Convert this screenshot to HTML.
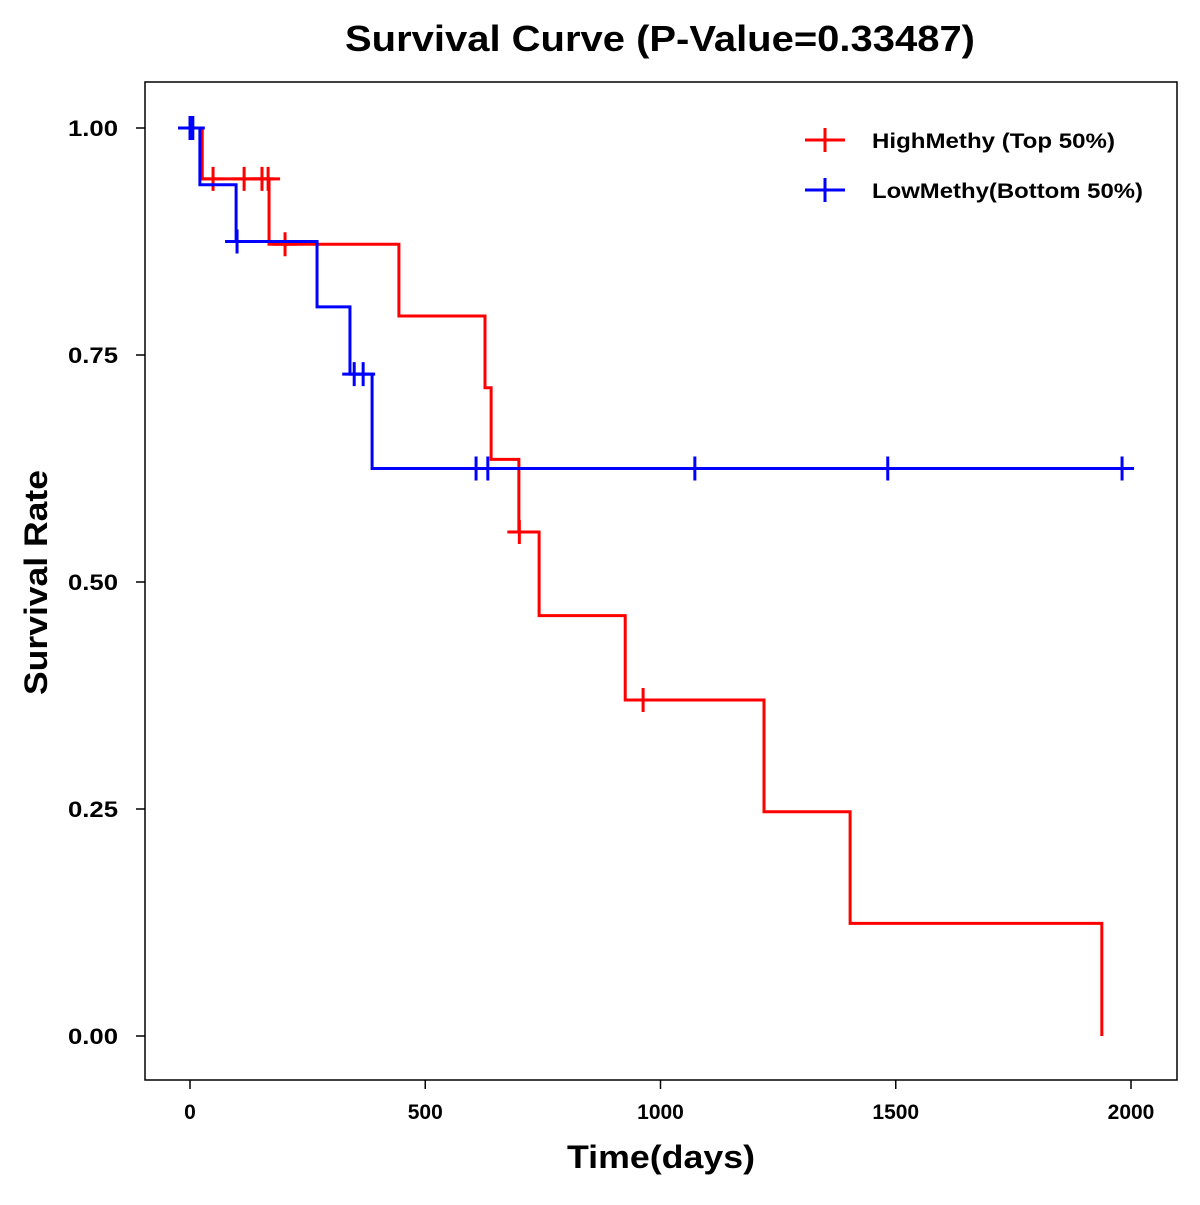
<!DOCTYPE html>
<html><head><meta charset="utf-8"><style>
body{margin:0;background:#fff}
svg text{font-family:"Liberation Sans",Arial,sans-serif;font-weight:bold}
</style></head><body>
<svg id="chart" width="1200" height="1200" xmlns="http://www.w3.org/2000/svg">
<rect width="1200" height="1200" fill="#fff"/>
<text x="345" y="51" font-size="36" textLength="630" lengthAdjust="spacingAndGlyphs">Survival Curve (P-Value=0.33487)</text>
<rect x="145" y="82" width="1032" height="998" fill="none" stroke="#000" stroke-width="1.5"/>
<g id="axes"></g>
<g id="series"></g>
<text x="567" y="1168" font-size="32" textLength="188" lengthAdjust="spacingAndGlyphs">Time(days)</text>
<text transform="translate(47,695) rotate(-90)" font-size="32" textLength="225" lengthAdjust="spacingAndGlyphs">Survival Rate</text>
<g>
<g>
<line x1="805" y1="140" x2="845" y2="140" stroke="#f00" stroke-width="3"/><line x1="825" y1="128" x2="825" y2="152" stroke="#f00" stroke-width="3"/>
<text x="872" y="148" font-size="21" textLength="243" lengthAdjust="spacingAndGlyphs">HighMethy (Top 50%)</text></g>
<g>
<line x1="805" y1="190" x2="845" y2="190" stroke="#00f" stroke-width="3"/><line x1="825" y1="178" x2="825" y2="202" stroke="#00f" stroke-width="3"/>
<text x="872" y="198" font-size="21" textLength="271" lengthAdjust="spacingAndGlyphs">LowMethy(Bottom 50%)</text></g>
</g>
</svg>
<script>
const xTicks=[0,500,1000,1500,2000];
const yTicks=[0,0.25,0.5,0.75,1.0];
const yTickLabels=["0.00","0.25","0.50","0.75","1.00"];
const highTimes=[0,26,168,444,627,640,699,742,925,1220,1403,1938];
const highSurv=[1,0.944,0.872,0.793,0.714,0.635,0.555,0.463,0.37,0.247,0.124,0];
const highCensor=[49,115,153,166,202,700,963];
const lowTimes=[0,21,98,270,340,387];
const lowSurv=[1,0.9375,0.875,0.803,0.729,0.625];
const lowCensor=[0,6,100,349,368,608,633,1073,1483,1981];
const lowEnd=1985, lowStart=-25;
const NS="http://www.w3.org/2000/svg";
const X=d=>190+d*0.4705, Y=s=>1036-s*908;
function mk(tag,attrs,parent){const e=document.createElementNS(NS,tag);for(const k in attrs)e.setAttribute(k,attrs[k]);parent.appendChild(e);return e;}
const ax=document.getElementById('axes');
xTicks.forEach(t=>{
 const l=mk('line',{x1:X(t),x2:X(t),y1:1080,y2:1089,stroke:'#000','stroke-width':1.5},ax);
 
 
 const tx=mk('text',{x:X(t),y:1119,'font-size':21,'text-anchor':'middle'},ax);tx.textContent=t;
 
 
});
yTicks.forEach((t,i)=>{
 const l=mk('line',{x1:136,x2:145,y1:Y(t),y2:Y(t),stroke:'#000','stroke-width':1.5},ax);
 
 
 const tx=mk('text',{x:68,y:Y(t)+8,'font-size':22,textLength:50,lengthAdjust:'spacingAndGlyphs'},ax);tx.textContent=yTickLabels[i];
 
 
});
function survAt(times,surv,t){let s=surv[0];for(let i=0;i<times.length;i++)if(times[i]<=t)s=surv[i];return s;}
function draw(times,surv,censor,end,color,name,start){
 const g=mk('g',{},document.getElementById('series'));
 
 
 let d='M'+X(start)+','+Y(surv[0]);
 for(let i=1;i<times.length;i++){d+=' H'+X(times[i])+' V'+Y(surv[i]);}
 if(end!==null)d+=' H'+X(end);
 const p=mk('path',{d:d,fill:'none',stroke:color,'stroke-width':3},g);
 
 
 censor.forEach(c=>{
  const s=survAt(times,surv,c);
  const m=mk('path',{d:`M${X(c)},${Y(s)-12}V${Y(s)+12}M${X(c)-12},${Y(s)}H${X(c)+12}`,stroke:color,'stroke-width':3,fill:'none'},g);
  
  
 });
}
draw(highTimes,highSurv,highCensor,null,'#f00','high-methy-series',0);
draw(lowTimes,lowSurv,lowCensor,lowEnd,'#00f','low-methy-series',lowStart);
</script>
</body></html>
